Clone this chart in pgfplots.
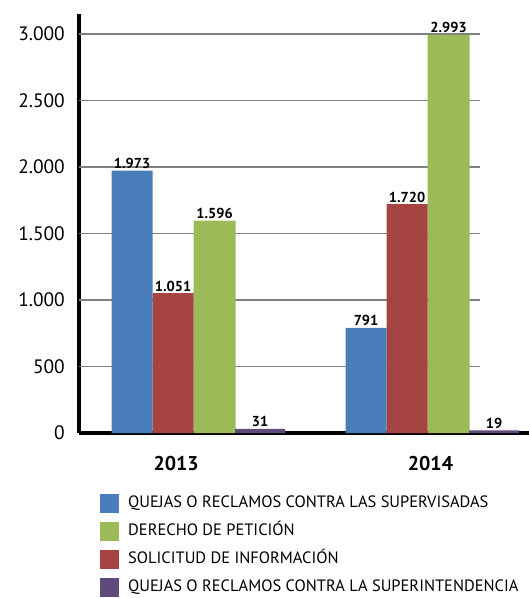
\documentclass[border=0pt]{standalone}
\usepackage{fontspec}
\setmainfont{PT Sans}
\usepackage{pgfplots}
\pgfplotsset{compat=1.18}
\definecolor{cblue}{HTML}{4A7EBB}
\definecolor{cred}{HTML}{A54442}
\definecolor{cgreen}{HTML}{9BBB59}
\definecolor{cpurple}{HTML}{604A7B}
\definecolor{cgrid}{HTML}{808080}
\begin{document}
\begin{tikzpicture}
\begin{axis}[
  scale only axis, width=450bp, height=419bp,
  xmin=-0.402, xmax=1.521, ymin=0, ymax=3150,
  axis x line*=bottom, axis y line*=left,
  axis line style={line width=4bp, black, -},
  ytick={0,500,...,3000}, xtick={0.013,1.1}, xticklabels={2013,2014},
  major tick length=0pt,
  /pgf/number format/.cd, 1000 sep={.}, assume math mode=true, /pgfplots/.cd,
  yticklabel style={font=\fontsize{19.5}{22}\selectfont, anchor=east, inner sep=0pt, xshift=-14bp},
  xticklabel style={font=\fontsize{20}{22}\selectfont\bfseries, anchor=center, inner sep=0pt, yshift=-31bp},
  ybar,
  nodes near coords,
  nodes near coords style={font=\fontsize{14.5}{16}\selectfont\bfseries, anchor=south, inner sep=1.5bp},
  legend style={at={(rel axis cs:0.0467,-0.145)}, anchor=north west, draw=none, fill=none, inner sep=0pt,
    font=\fontsize{16.5}{19}\selectfont, row sep=9bp,
    nodes={inner sep=0pt, text height=12bp, text depth=3bp},
    /tikz/every odd column/.append style={column sep=9bp}},
  legend cell align=left,
]
\coordinate (sw) at (rel axis cs:0,0);
\coordinate (ne) at (rel axis cs:1,1);
\pgfplotsinvokeforeach{500,1000,1500,2000,2500,3000}{
  \draw[cgrid, line width=1.5bp] (axis cs:-0.402,#1) -- (axis cs:1.312,#1);
}
\addplot[fill=cblue, draw=none, bar width=41bp, bar shift=-41bp,
  legend image code/.code={\fill[cblue] (0bp,-9.5bp) rectangle (19bp,9.5bp);}]
  coordinates {(0,1973) (1,791)};
\addplot[fill=cgreen, draw=none, bar width=42bp, bar shift=41.5bp,
  legend image code/.code={\fill[cgreen] (0bp,-9.5bp) rectangle (19bp,9.5bp);}]
  coordinates {(0,1596) (1,2993)};
\addplot[fill=cred, draw=none, bar width=41bp, bar shift=0bp,
  legend image code/.code={\fill[cred] (0bp,-9.5bp) rectangle (19bp,9.5bp);}]
  coordinates {(0,1051) (1,1720)};
\addplot[fill=cpurple, draw=none, bar width=50bp, bar shift=87bp,
  legend image code/.code={\fill[cpurple] (0bp,-9.5bp) rectangle (19bp,9.5bp);}]
  coordinates {(0,31) (1,19)};
\legend{QUEJAS O RECLAMOS CONTRA LAS SUPERVISADAS, DERECHO DE PETICIÓN, SOLICITUD DE INFORMACIÓN, QUEJAS O RECLAMOS CONTRA LA SUPERINTENDENCIA}
\end{axis}
\pgfresetboundingbox
\path[use as bounding box] ([xshift=-79bp,yshift=-165bp]sw) rectangle ([yshift=14bp]ne);
\end{tikzpicture}
\end{document}
